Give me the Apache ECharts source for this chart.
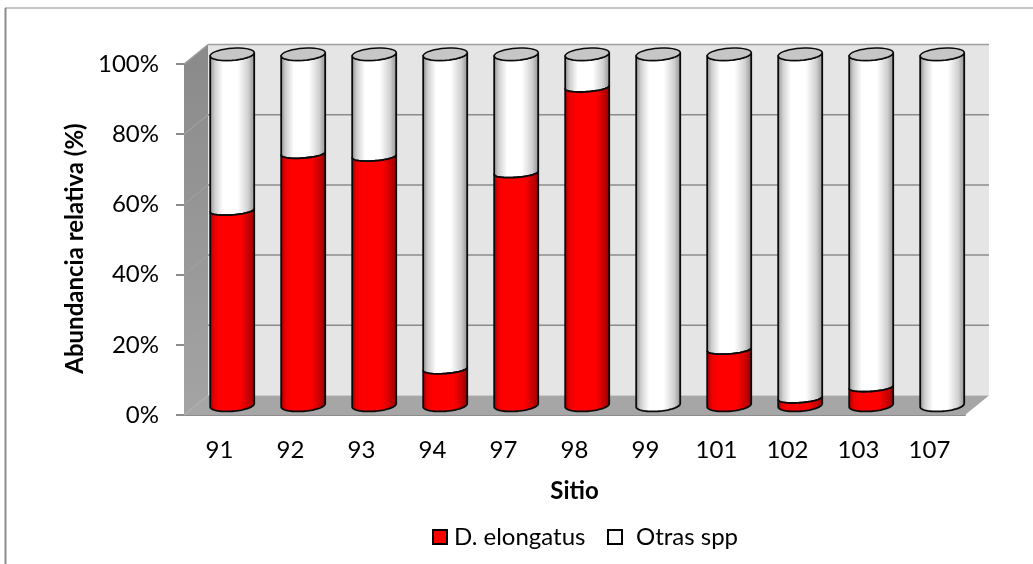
<!DOCTYPE html>
<html><head><meta charset="utf-8">
<style>html,body{margin:0;padding:0;background:#fff}#c{width:1033px;height:564px}</style>
<script src="https://cdn.jsdelivr.net/npm/echarts@6/dist/echarts.min.js"></script>
</head><body><div id="c"></div>
<script>
const categories = ['91','92','93','94','97','98','99','101','102','103','107'];
const elongatus = [55.5,71.7,70.9,10.3,66.2,90.6,0,15.9,2,5.2,0];
const otras = [44.5,28.3,29.1,89.7,33.8,9.4,100,84.1,98,94.8,100];
const yTicks = [0,20,40,60,80,100];

const FONT = 'Lato';
const DX = 24, DY = 19.5;
const RX_FRAC = 0.31, RY_END = 6, RY_MID = 4.5, TILT = 1.6;

function arc(cx, cy, rx, ry, t0, t1) {
  const pts = [], n = 36;
  for (let i = 0; i <= n; i++) {
    const t = t0 + (t1 - t0) * i / n;
    pts.push([cx + rx * Math.cos(t), cy + ry * Math.sin(t) - TILT * Math.cos(t)]);
  }
  return pts;
}
function cylGrad(stops) {
  return new echarts.graphic.LinearGradient(0, 0, 1, 0, stops);
}
const redFill = () => cylGrad([
  {offset:0,color:'#a00000'},{offset:0.12,color:'#ee0000'},{offset:0.25,color:'#ff0000'},
  {offset:0.68,color:'#ff0000'},{offset:0.88,color:'#c00000'},{offset:1,color:'#8c0000'}]);
const whiteFill = () => cylGrad([
  {offset:0,color:'#8a8a8a'},{offset:0.12,color:'#cfcfcf'},{offset:0.3,color:'#ffffff'},
  {offset:0.62,color:'#ffffff'},{offset:0.85,color:'#d0d0d0'},{offset:1,color:'#8c8c8c'}]);

function cylinder(makeFill, bottomRy, topRy, withCap) {
  return function (params, api) {
    const v0 = api.value(1), v1 = api.value(2);
    if (v1 - v0 <= 0) return {type:'group', children:[]};
    const a = api.coord([api.value(0), v0]);
    const b = api.coord([api.value(0), v1]);
    const rx = api.size([1, 0])[0] * RX_FRAC;
    const cx = a[0] + DX / 2 + 0.7, y0 = a[1] - DY / 2, y1 = b[1] - DY / 2;
    const lowRy = v0 === 0 ? RY_END : bottomRy;
    const pts = arc(cx, y0, rx, lowRy, Math.PI, 0).concat(arc(cx, y1, rx, topRy, 0, Math.PI));
    const children = [{
      type:'polygon', shape:{points:pts},
      style:{fill:makeFill(), stroke:'#0a0a0a', lineWidth:1.8, lineJoin:'round'}
    }];
    if (withCap) {
      children.push({
        type:'polygon', shape:{points:arc(cx, y1, rx, RY_END, 0, Math.PI * 2)},
        style:{fill:'#c6c6c6', stroke:'#0a0a0a', lineWidth:1.5}
      });
    }
    return {type:'group', children};
  };
}

function walls(params, api) {
  const cs = params.coordSys;
  const L = cs.x, R = cs.x + cs.width, B = cs.y + cs.height, T = cs.y;
  const ch = [
    {type:'polygon', shape:{points:[[L+DX,T-DY],[R+DX,T-DY],[R+DX,B-DY],[L+DX,B-DY]]}, style:{fill:'#e5e5e5'}},
    {type:'polygon', shape:{points:[[L,T],[L+DX,T-DY],[L+DX,B-DY],[L,B]]},
      style:{fill:new echarts.graphic.LinearGradient(0,0,0,1,[{offset:0,color:'#8a8a8a'},{offset:1,color:'#a4a4a4'}])}},
    {type:'polygon', shape:{points:[[L,B],[L+DX,B-DY],[R+DX,B-DY],[R,B]]}, style:{fill:'#a6a6a6'}}
  ];
  yTicks.forEach(t => {
    const y = api.coord([0, t])[1];
    ch.push({type:'polyline', shape:{points:[[L,y],[L+DX,y-DY]]}, style:{stroke:t===0?'#b0b0b0':'#a0a0a0', lineWidth:1.2, fill:'none'}});
    if (t > 0) ch.push({type:'line', shape:{x1:L+DX,y1:y-DY,x2:R+DX,y2:y-DY}, style:{stroke:t===100?'#a0a0a0':'#8c8c8c', lineWidth:1.5}});
  });
  return {type:'group', children:ch};
}

function stacked(lower, values) {
  return values.map((v, i) => [i, lower ? lower[i] : 0, (lower ? lower[i] : 0) + v]);
}

const chart = echarts.init(document.getElementById('c'), null, {renderer:'canvas'});
chart.setOption({
  animation:false,
  backgroundColor:'#ffffff',
  textStyle:{fontFamily:FONT, color:'#000'},
  grid:{left:184, top:64, width:781, height:351, containLabel:false},
  xAxis:{
    type:'category', data:categories, name:'Sitio', nameLocation:'middle', nameGap:64,
    nameTextStyle:{fontFamily:FONT, fontSize:24, fontWeight:'bold', color:'#000'},
    axisLine:{show:true, lineStyle:{color:'#8c8c8c', width:2}},
    axisTick:{show:false},
    axisLabel:{fontFamily:FONT, fontSize:24, color:'#000', margin:23, interval:0}
  },
  yAxis:{
    type:'value', min:0, max:100, interval:20,
    name:'Abundancia relativa (%)', nameLocation:'middle', nameGap:90, nameRotate:90,
    nameTextStyle:{fontFamily:FONT, fontSize:24, fontWeight:'bold', color:'#000', padding:[0,18,0,0]},
    axisLine:{show:true, lineStyle:{color:'#8c8c8c', width:1}},
    axisTick:{show:true, length:8, lineStyle:{color:'#8c8c8c', width:2}},
    splitLine:{show:false},
    axisLabel:{fontFamily:FONT, fontSize:24, color:'#000', margin:25, formatter:'{value}%'}
  },
  legend:[
    {left:432, top:525, itemWidth:14, itemHeight:14, itemGap:0, data:[{name:'D. elongatus', icon:'rect'}],
      textStyle:{fontFamily:FONT, fontSize:24, color:'#000', padding:[0,0,0,2]}, padding:0},
    {left:607, top:525, itemWidth:14, itemHeight:14, itemGap:0, data:[{name:'Otras spp', icon:'rect'}],
      textStyle:{fontFamily:FONT, fontSize:24, color:'#000', padding:[0,0,0,9]}, padding:0}
  ],
  graphic:[
    {type:'line', shape:{x1:5,y1:8,x2:1033,y2:8}, style:{stroke:'#8c8c8c', lineWidth:1.2}},
    {type:'line', shape:{x1:5.5,y1:8,x2:5.5,y2:564}, style:{stroke:'#8c8c8c', lineWidth:2}}
  ],
  series:[
    {type:'custom', name:'walls', z:1, silent:true, renderItem:walls, data:[[0,0,0]], encode:{x:0,y:1}, clip:false},
    {type:'custom', name:'Otras spp', z:2, silent:true, renderItem:cylinder(whiteFill,RY_MID,RY_END,true),
      itemStyle:{color:'#ffffff', borderColor:'#000', borderWidth:1.5},
      data:stacked(elongatus, otras), encode:{x:0,y:[1,2]}, clip:false},
    {type:'custom', name:'D. elongatus', z:3, silent:true, renderItem:cylinder(redFill,RY_END,RY_MID,false),
      itemStyle:{color:'#ff0000', borderColor:'#000', borderWidth:1.5},
      data:stacked(null, elongatus), encode:{x:0,y:[1,2]}, clip:false}
  ]
});
</script></body></html>
